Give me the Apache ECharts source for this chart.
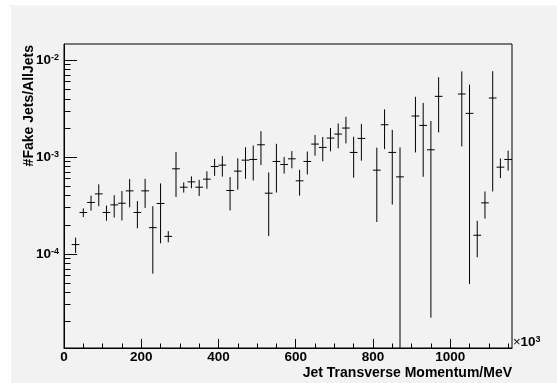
<!DOCTYPE html>
<html><head><meta charset="utf-8">
<script src="https://cdn.jsdelivr.net/npm/echarts@6/dist/echarts.min.js"></script>
<style>html,body{margin:0;padding:0;background:#fff;}#c{width:557px;height:383px;}</style>
</head><body><div id="c"></div>
<script>
// ---- data (x in MeV x10^3, ratio values, symmetric errors) ----
const binCenters = [30,50,70,90,110,130,150,170,190,210,230,250,270,290,310,330,350,370,390,410,430,450,470,490,510,530,550,570,590,610,630,650,670,690,710,730,750,770,810,830,850,870,910,930,950,970,1030,1050,1070,1090,1110,1130,1150];
const values = [1.25e-4,2.68e-4,3.40e-4,4.17e-4,2.68e-4,3.21e-4,3.34e-4,4.48e-4,2.68e-4,4.48e-4,1.87e-4,3.32e-4,1.52e-4,7.57e-4,4.89e-4,5.55e-4,4.89e-4,5.92e-4,8.0e-4,8.26e-4,4.52e-4,7.16e-4,9.30e-4,9.45e-4,1.34e-3,4.24e-4,9.01e-4,8.39e-4,9.60e-4,5.69e-4,9.01e-4,1.362e-3,1.258e-3,1.571e-3,1.728e-3,1.994e-3,1.117e-3,1.558e-3,7.33e-4,2.158e-3,1.117e-3,6.25e-4,2.653e-3,2.124e-3,1.190e-3,4.236e-3,4.479e-3,2.826e-3,1.56e-4,3.37e-4,4.072e-3,7.87e-4,9.45e-4];
const errors = [0.225e-4,0.275e-4,0.60e-4,1.06e-4,0.48e-4,0.83e-4,1.12e-4,1.45e-4,0.84e-4,1.49e-4,1.244e-4,2.03e-4,0.20e-4,3.7e-4,0.59e-4,0.78e-4,0.93e-4,1.21e-4,1.6e-4,1.97e-4,1.70e-4,2.55e-4,3.33e-4,3.72e-4,5.13e-4,2.705e-4,4.7e-4,1.64e-4,1.94e-4,1.69e-4,2.4e-4,3.3e-4,3.54e-4,4.25e-4,4.96e-4,6.1e-4,5.05e-4,6.4e-4,5.19e-4,9.5e-4,7.93e-4,6.33e-4,1.536e-3,1.498e-3,1.168e-3,2.438e-3,3.19e-3,2.777e-3,0.635e-4,1.05e-4,3.63e-3,1.8e-4,2.2e-4];
const binWidth = 20;
const xMax = 1160;
const yMin = 1.07e-5, yMax = 1.47e-2;
const xMajorTicks = [0,200,400,600,800,1000];
const xMinorTicks = [50,100,150,250,300,350,450,500,550,650,700,750,850,900,950,1050,1100,1150];
const yMajorTicks = [1e-4,1e-3,1e-2];
const yMinorTicks = [2e-5,3e-5,4e-5,5e-5,6e-5,7e-5,8e-5,9e-5,2e-4,3e-4,4e-4,5e-4,6e-4,7e-4,8e-4,9e-4,2e-3,3e-3,4e-3,5e-3,6e-3,7e-3,8e-3,9e-3];
const xTitle = 'Jet Transverse Momentum/MeV';
const yTitle = '#Fake Jets/AllJets';

const FONT = '"Liberation Sans", Arial, Helvetica, sans-serif';
const rows = binCenters.map((x, i) => [x, values[i], errors[i]]);

const chart = echarts.init(document.getElementById('c'), null, {renderer: 'canvas'});
const option = {
  backgroundColor: '#ffffff',
  animation: false,
  grid: {left: 64, top: 44, width: 448, height: 304, show: true, borderColor: '#000', borderWidth: 1, backgroundColor: 'transparent', containLabel: false},
  xAxis: [{
    type: 'value', min: 0, max: xMax, position: 'bottom',
    axisLine: {show: true, lineStyle: {color: '#000', width: 1}},
    axisTick: {show: true, inside: true, length: 9, customValues: xMajorTicks, lineStyle: {color: '#000'}},
    axisLabel: {show: true, customValues: xMajorTicks, margin: 2, color: '#000', fontWeight: 'bold', fontSize: 13.5, fontFamily: FONT,
      formatter: function (v) { return String(v); }},
    splitLine: {show: false}
  }, {
    type: 'value', min: 0, max: xMax, position: 'bottom',
    axisLine: {show: false},
    axisTick: {show: true, inside: true, length: 4.5, customValues: xMinorTicks, lineStyle: {color: '#000'}},
    axisLabel: {show: false},
    splitLine: {show: false}
  }],
  yAxis: [{
    type: 'log', logBase: 10, min: yMin, max: yMax, position: 'left',
    axisLine: {show: true, lineStyle: {color: '#000', width: 1}},
    axisTick: {show: true, inside: true, length: 13, customValues: yMajorTicks, lineStyle: {color: '#000'}},
    axisLabel: {
      show: true, customValues: yMajorTicks, margin: 5, color: '#000',
      formatter: function (v) { return '{b|10}{s|' + Math.round(Math.log10(v)) + '}'; },
      rich: {
        b: {fontSize: 13.5, fontWeight: 'bold', fontFamily: FONT, color: '#000', lineHeight: 14, verticalAlign: 'bottom'},
        s: {fontSize: 9, fontWeight: 'bold', fontFamily: FONT, color: '#000', lineHeight: 7, verticalAlign: 'top'}
      }
    },
    splitLine: {show: false}, minorTick: {show: false}
  }, {
    type: 'log', logBase: 10, min: yMin, max: yMax, position: 'left',
    axisLine: {show: false},
    axisTick: {show: true, inside: true, length: 6.5, customValues: yMinorTicks, lineStyle: {color: '#000'}},
    axisLabel: {show: false},
    splitLine: {show: false}
  }],
  graphic: [
    {type: 'rect', shape: {x: 11, y: 7, width: 546, height: 376}, style: {fill: '#f2f2f2'}, z: -10, silent: true},
    {type: 'rect', shape: {x: 9, y: 5.5, width: 548, height: 1}, style: {fill: '#ececec'}, z: -10, silent: true},
    {type: 'text', x: 29, y: 45, rotation: Math.PI / 2, z: 10,
      style: {text: yTitle, fill: '#000', font: 'bold 14px ' + FONT, align: 'right', verticalAlign: 'middle'}},
    {type: 'text', x: 512, y: 373, z: 10,
      style: {text: xTitle, fill: '#000', font: 'bold 14px ' + FONT, align: 'right', verticalAlign: 'middle'}},
    {type: 'text', x: 513, y: 349, z: 10,
      style: {
        text: '{x|\u00d7}{b|10}{s|3}', align: 'left', verticalAlign: 'bottom',
        rich: {
          x: {fontSize: 13, fontFamily: FONT, fill: '#000', lineHeight: 14, verticalAlign: 'bottom'},
          b: {fontSize: 13.5, fontWeight: 'bold', fontFamily: FONT, fill: '#000', lineHeight: 14, verticalAlign: 'bottom'},
          s: {fontSize: 9, fontWeight: 'bold', fontFamily: FONT, fill: '#000', lineHeight: 7, verticalAlign: 'top'}
        }
      }}
  ],
  series: [{
    type: 'custom', xAxisIndex: 0, yAxisIndex: 0, clip: true,
    data: rows,
    encode: {x: 0, y: 1},
    renderItem: function (params, api) {
      const x = api.value(0), v = api.value(1), e = api.value(2);
      const lo = Math.max(v - e, yMin);
      const hi = Math.min(v + e, yMax);
      const pT = api.coord([x, hi]);
      const pB = api.coord([x, lo]);
      const pL = api.coord([x - binWidth / 2, v]);
      const pR = api.coord([x + binWidth / 2, v]);
      const st = {stroke: '#000', lineWidth: 1};
      return {type: 'group', children: [
        {type: 'line', shape: {x1: pT[0], y1: pT[1], x2: pB[0], y2: pB[1]}, style: st},
        {type: 'line', shape: {x1: pL[0], y1: pL[1], x2: pR[0], y2: pR[1]}, style: st}
      ]};
    }
  }]
};
chart.setOption(option);
</script></body></html>
